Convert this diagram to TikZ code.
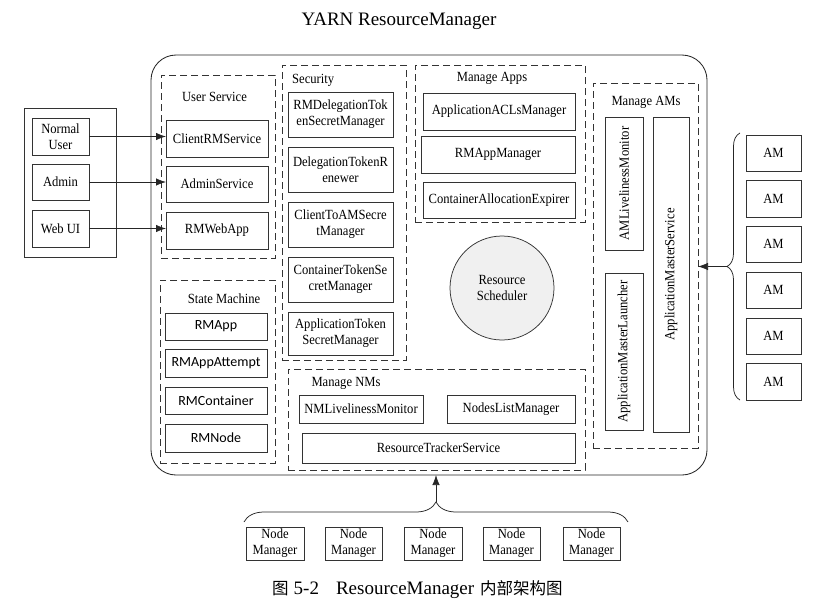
\documentclass[tikz,border=0pt]{standalone}
\usepackage{fontspec}
\setmainfont{Liberation Serif}[FakeStretch=0.9]
\newfontfamily\titlef{Liberation Serif}
\newfontfamily\cjkf{Noto Sans CJK SC}
\newfontfamily\calib{Carlito}
\usetikzlibrary{arrows.meta,decorations.pathreplacing}
\tikzset{
  box/.style={draw=black!80, line width=0.75pt, inner sep=0pt, outer sep=0pt, align=center, font=\fontsize{14}{16}\selectfont},
  grp/.style={draw=black!80, line width=1pt, dash pattern=on 7pt off 4pt, inner sep=0pt, outer sep=0pt},
  lbl/.style={inner sep=0pt, font=\fontsize{14}{16}\selectfont},
  sbox/.style={font=\calib\fontsize{14}{16}\selectfont},
  arr/.style={-{Latex[length=10pt,width=7.5pt]}, line width=0.75pt, draw=black!85},
  brc/.style={decorate, decoration={brace, amplitude=#1}, line width=0.75pt, draw=black!85},
  outer/.style={draw=black!85, line width=0.85pt, rounded corners=25pt, inner sep=0pt, outer sep=0pt},
}
\newcommand{\rbx}[7][]{\node[box,#1,minimum width={(#5-#3)*1pt},minimum height={(#6-#4)*1pt}] (#2) at ({(#3+#5)/2},{(#4+#6)/2}) {#7};}
\begin{document}
\begin{tikzpicture}[x=1pt,y=-1pt]
\useasboundingbox (0,0) rectangle (820,608);
% title
\node[font=\titlef\fontsize{19}{22}\selectfont] (title) at (399,21) {YARN ResourceManager};
% outer
\rbx[outer]{rm}{151}{55}{707}{475}{}
% groups
\rbx[grp]{gus}{161}{75}{275}{258}{}
\rbx[grp]{gsec}{282}{65}{406}{360}{}
\rbx[grp]{gapps}{415}{65}{585}{222}{}
\rbx[grp]{gams}{593}{83}{698}{448}{}
\rbx[grp]{gsm}{160}{280}{275}{463}{}
\rbx[grp]{gnms}{288}{369}{585}{470}{}
% labels
\node[lbl] (lus) at (214.5,97) {User Service};
\node[lbl,anchor=west] (lsec) at (292,80) {Security};
\node[lbl] (lapps) at (492,78) {Manage Apps};
\node[lbl] (lams) at (646,102) {Manage AMs};
\node[lbl] (lsm) at (224,299) {State Machine};
\node[lbl] (lnms) at (346,383) {Manage NMs};
% clients
\rbx{users}{24}{108}{116}{257}{}
\rbx{nu}{32}{118}{89}{155}{Normal\\User}
\rbx{ad}{32}{164}{89}{200}{Admin}
\rbx{wu}{32}{210}{89}{247}{Web UI}
% user service
\rbx{crm}{166}{120}{268}{157}{ClientRMService}
\rbx{ads}{166}{166}{268}{202}{AdminService}
\rbx{rwa}{166}{212}{268}{249}{RMWebApp}
\draw[arr] (nu.east) -- (nu.east -| crm.west);
\draw[arr] (ad.east) -- (ad.east -| ads.west);
\draw[arr] (wu.east) -- (wu.east -| rwa.west);
% security
\rbx{sd1}{288}{92}{393}{137}{RMDelegationTok\\enSecretManager}
\rbx{sd2}{288}{147}{393}{192}{DelegationTokenR\\enewer}
\rbx{sd3}{288}{202}{393}{247}{ClientToAMSecre\\tManager}
\rbx{sd4}{288}{257}{393}{302}{ContainerTokenSe\\cretManager}
\rbx{sd5}{288}{312}{393}{355}{ApplicationToken\\SecretManager}
% manage apps
\rbx{acl}{423}{93}{575}{130}{ApplicationACLsManager}
\rbx{rmam}{421}{136}{575}{173}{RMAppManager}
\rbx{cae}{423}{182}{575}{218}{ContainerAllocationExpirer}
% scheduler
\node[circle, draw=black!80, fill=black!6, line width=0.75pt, minimum size=104pt, inner sep=0pt, align=center, font=\fontsize{14}{16}\selectfont] (sch) at (502,288) {Resource\\Scheduler};
% manage AMs
\rbx{amlm}{605}{117}{643}{250}{}
\rbx{aml}{605}{273}{643}{430}{}
\rbx{ams}{653}{117}{689}{432}{}
\node[lbl,rotate=90] (tamlm) at (amlm) {AMLivelinessMonitor};
\node[lbl,rotate=90] (taml) at (aml) {ApplicationMasterLauncher};
\node[lbl,rotate=90] (tams) at (ams) {ApplicationMasterService};
% AMs
\rbx{am1}{746}{135}{801}{171}{AM}
\rbx{am2}{746}{180}{801}{217}{AM}
\rbx{am3}{746}{226}{801}{262}{AM}
\rbx{am4}{746}{272}{801}{308}{AM}
\rbx{am5}{746}{318}{801}{354}{AM}
\rbx{am6}{746}{363}{801}{400}{AM}
\coordinate (amb1) at (740,400);
\coordinate (amb2) at (740,133);
\draw[brc=13pt] (amb1) -- (amb2);
\coordinate (amtip) at (727,266.5);
\draw[arr] (amtip) -- (amtip -| gams.east);
% state machine
\rbx[sbox]{rmapp}{165}{313}{267}{340}{RMApp}
\rbx[sbox]{rmaa}{165}{349}{267}{377}{RMAppAttempt}
\rbx[sbox]{rmc}{165}{387}{267}{414}{RMContainer}
\rbx[sbox]{rmn}{165}{424}{267}{452}{RMNode}
% manage NMs
\rbx{nmlm}{299}{395}{423}{423}{NMLivelinessMonitor}
\rbx{nlm}{447}{395}{575}{423}{NodesListManager}
\rbx{rts}{302}{433}{575}{463}{ResourceTrackerService}
% node managers
\rbx{nm1}{246}{527}{304}{560}{Node\\Manager}
\rbx{nm2}{325}{527}{382}{560}{Node\\Manager}
\rbx{nm3}{404}{527}{462}{560}{Node\\Manager}
\rbx{nm4}{483}{527}{540}{560}{Node\\Manager}
\rbx{nm5}{563}{527}{620}{560}{Node\\Manager}
\coordinate (nmb1) at (244,522);
\coordinate (nmb2) at (628,522);
\draw[brc=20pt] (nmb1) -- (nmb2);
\coordinate (nmtip) at (436,502);
\draw[arr] (nmtip) -- (nmtip |- rm.south);
% caption
\node[anchor=west, inner sep=0pt, font=\titlef\fontsize{19}{22}\selectfont] (cap) at (272,590) {{\cjkf\fontsize{16.5}{18}\selectfont 图}\hspace{5pt}5-2\hspace{17pt}ResourceManager\hspace{6pt}{\cjkf\fontsize{16.5}{18}\selectfont 内部架构图}};
\end{tikzpicture}
\end{document}
